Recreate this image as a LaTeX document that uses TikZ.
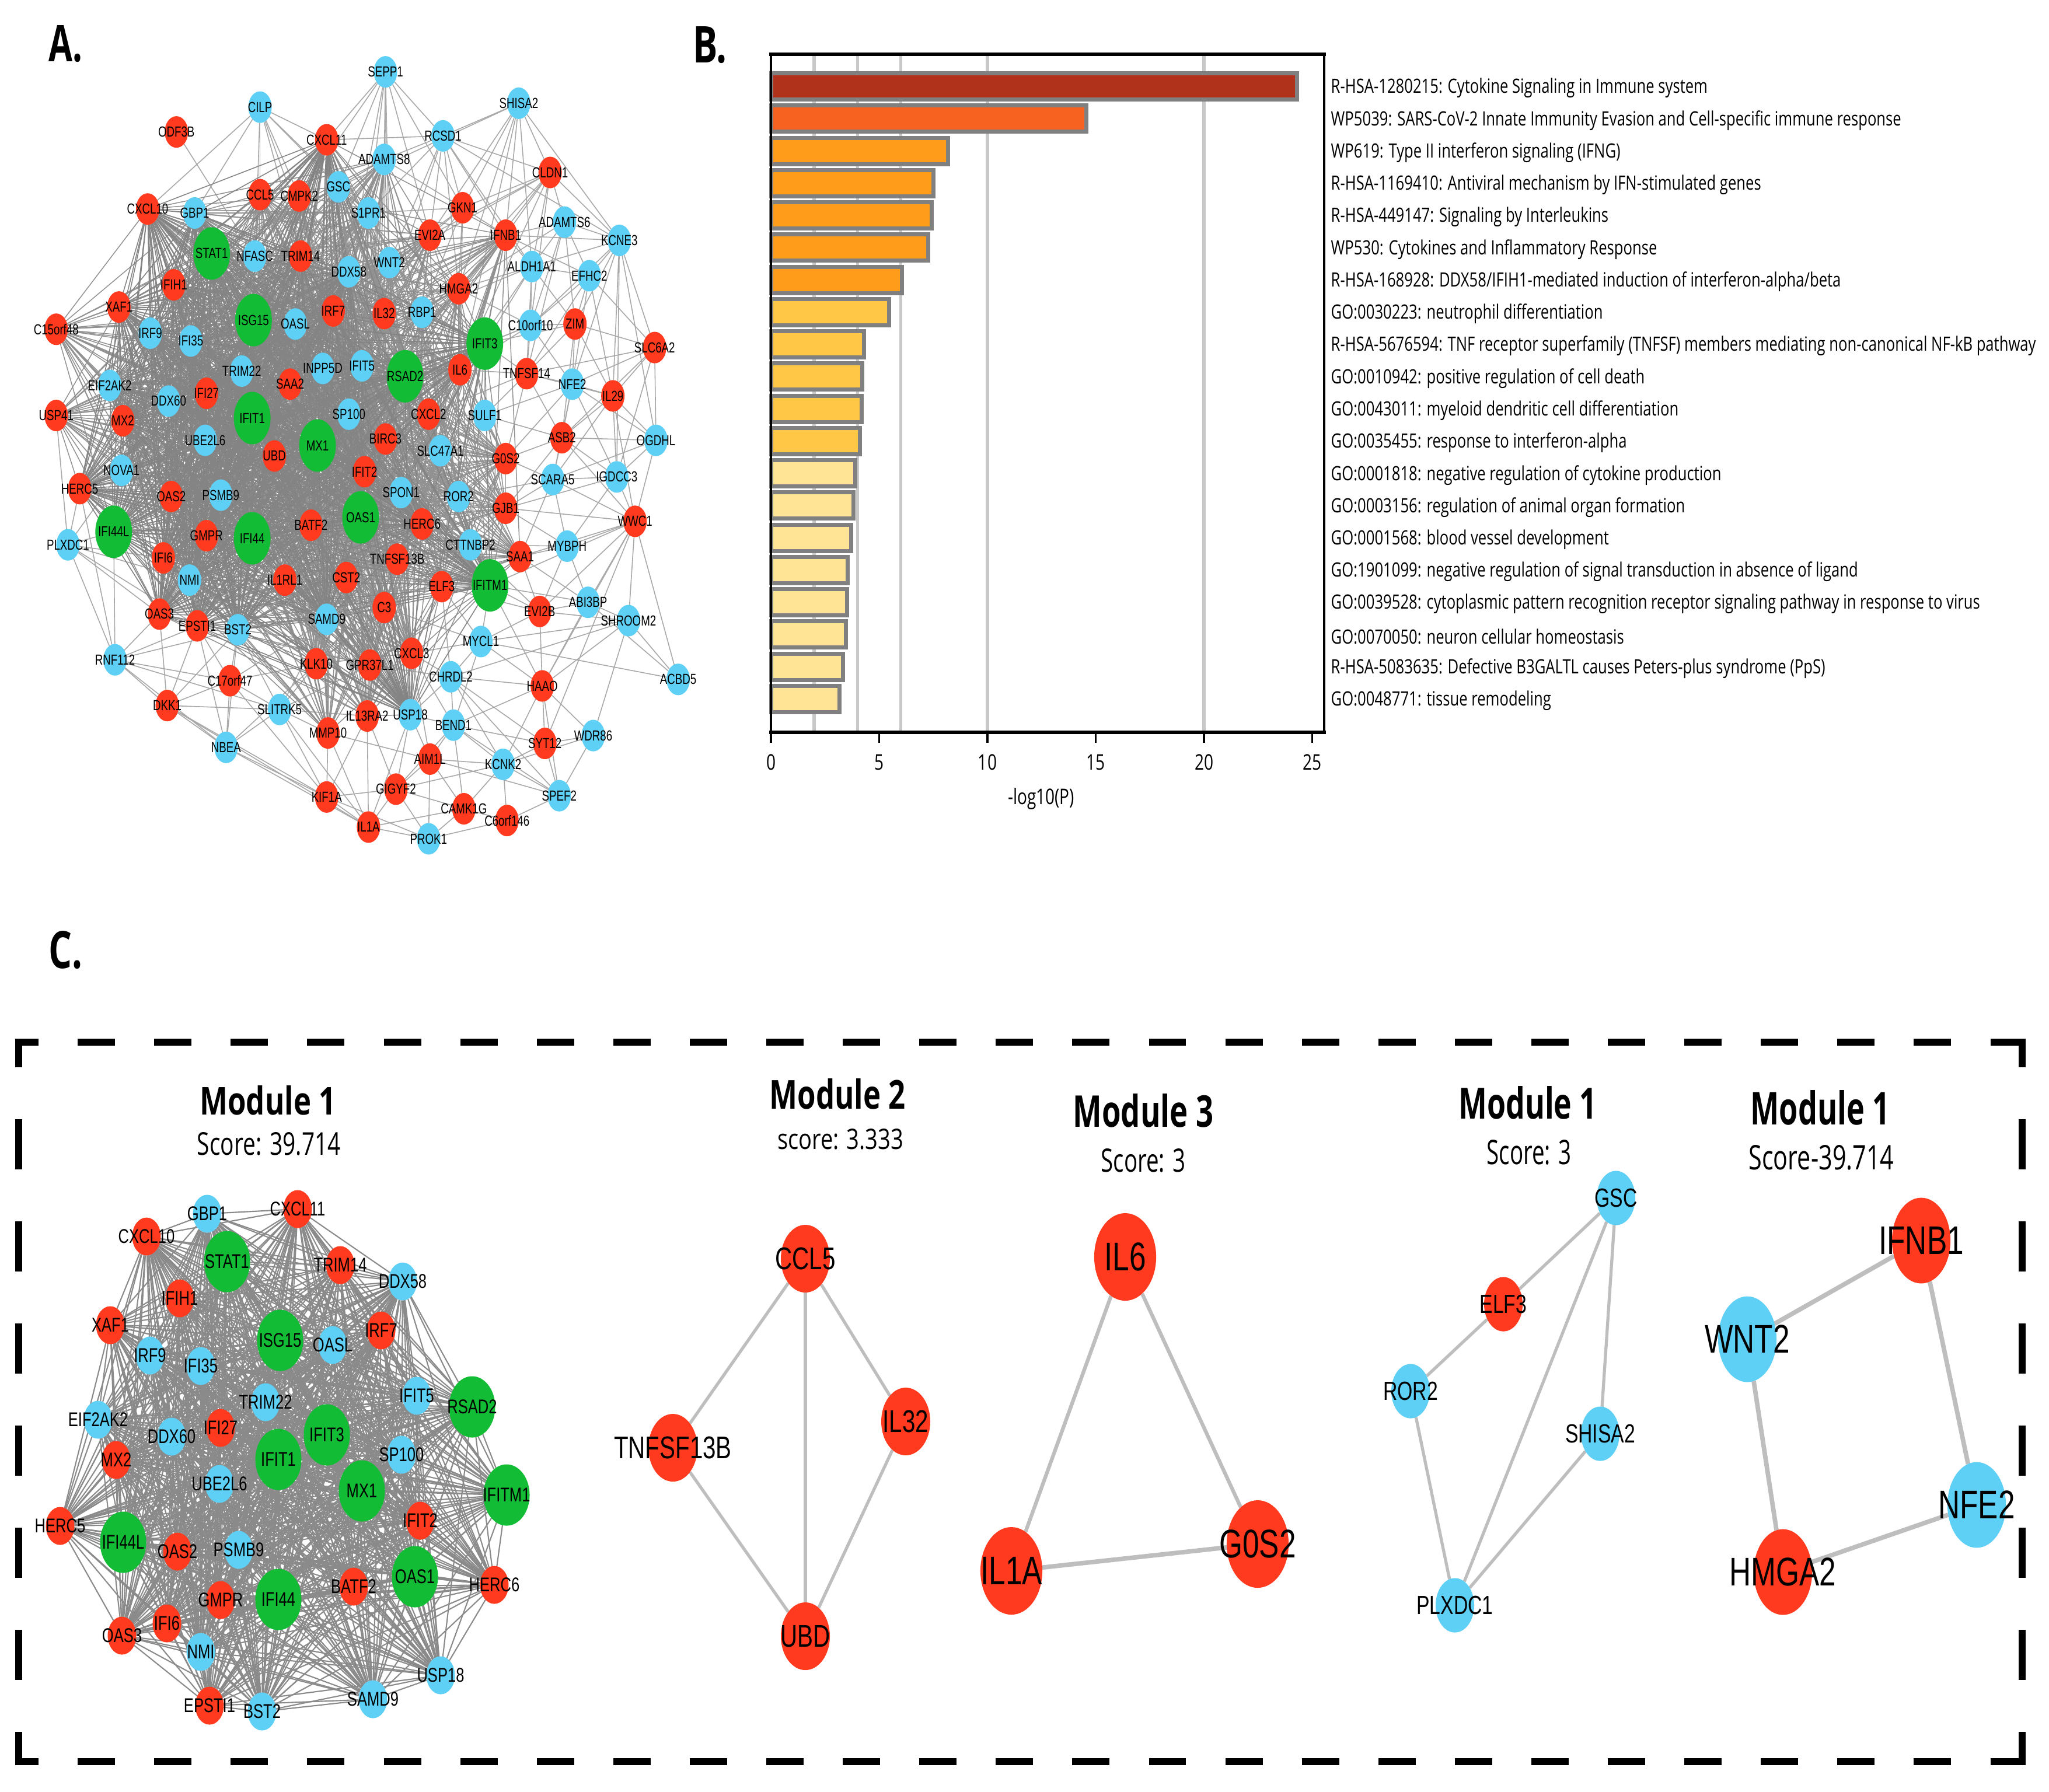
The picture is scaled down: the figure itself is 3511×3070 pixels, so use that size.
\documentclass[tikz,border=0pt]{standalone}
\usepackage{fontspec}
\usepackage{graphicx}
\setmainfont{Liberation Sans}
\newfontfamily\netfont[FakeStretch=0.75]{Liberation Sans}
\newfontfamily\condfont[FakeStretch=0.76]{Open Sans}
\newfontfamily\titlefont{Open Sans}
\usetikzlibrary{shapes.geometric}
\pgfdeclarelayer{bg}
\pgfdeclarelayer{edges}
\pgfsetlayers{bg,edges,main}
\definecolor{nred}{RGB}{255,58,30}
\definecolor{nblue}{RGB}{95,208,245}
\definecolor{ngreen}{RGB}{18,188,52}
\definecolor{edgeA}{RGB}{132,132,132}
\definecolor{edgeAm}{RGB}{145,145,145}
\definecolor{edgeAo}{RGB}{168,168,168}
\definecolor{edgeC}{RGB}{138,138,138}
\definecolor{edgeM}{RGB}{190,190,190}
\definecolor{barone}{RGB}{176,50,26}
\definecolor{bartwo}{RGB}{248,98,32}
\definecolor{barthree}{RGB}{255,157,27}
\definecolor{barfour}{RGB}{255,199,69}
\definecolor{barfive}{RGB}{255,228,150}
\definecolor{barline}{RGB}{128,128,128}
\definecolor{gridB}{RGB}{200,200,200}
\tikzset{
  nd/.style={ellipse, draw=none, inner sep=0pt, outer sep=0pt},
  rA/.style={nd, fill=nred, minimum width=11.4pt, minimum height=15.4pt},
  bA/.style={nd, fill=nblue, minimum width=11.4pt, minimum height=15.4pt},
  gA/.style={nd, fill=ngreen, minimum width=17.9pt, minimum height=25.6pt},
  labA/.style={inner sep=0pt, font=\netfont\fontsize{7.1}{8}\selectfont},
  eA/.style={draw=edgeA, line width=0.45pt},
  eAm/.style={draw=edgeAm, line width=0.42pt},
  eAo/.style={draw=edgeAo, line width=0.45pt},
  rC/.style={nd, fill=nred, minimum width=13.9pt, minimum height=18.5pt},
  bC/.style={nd, fill=nblue, minimum width=13.9pt, minimum height=18.5pt},
  gC/.style={nd, fill=ngreen, minimum width=22.5pt, minimum height=29.9pt},
  labC/.style={inner sep=0pt, font=\netfont\fontsize{9.7}{11}\selectfont},
  eC/.style={draw=edgeC, line width=0.6pt},
  rM2/.style={nd, fill=nred, minimum width=23.9pt, minimum height=33pt},
  labM2/.style={inner sep=0pt, font=\netfont\fontsize{15.3}{17}\selectfont},
  rM3/.style={nd, fill=nred, minimum width=30.2pt, minimum height=42.7pt},
  labM3/.style={inner sep=0pt, font=\netfont\fontsize{19.5}{22}\selectfont},
  rM4/.style={nd, fill=nred, minimum width=18.8pt, minimum height=26.5pt},
  bM4/.style={nd, fill=nblue, minimum width=18.8pt, minimum height=26.5pt},
  labM4/.style={inner sep=0pt, font=\netfont\fontsize{12.8}{14}\selectfont},
  rM5/.style={nd, fill=nred, minimum width=28.5pt, minimum height=41.8pt},
  bM5/.style={nd, fill=nblue, minimum width=28.5pt, minimum height=41.8pt},
  labM5/.style={inner sep=0pt, font=\netfont\fontsize{19.5}{22}\selectfont},
  eM/.style={draw=edgeM, line width=1.5pt},
  eMthick/.style={draw=edgeM, line width=2.2pt},
  barB/.style={draw=barline, line width=2pt},
  blab/.style={inner sep=0pt, anchor=west, font=\condfont\fontsize{9.6}{11}\selectfont},
  tickl/.style={inner sep=0pt, font=\condfont\fontsize{10.5}{12}\selectfont},
  ttl/.style={inner sep=0pt},
  dashH/.style={line width=3.3pt, dash pattern=on 18.2pt off 19.1pt, dash phase=6.8pt},
  dashV/.style={line width=3.3pt, dash pattern=on 24.5pt off 25.3pt, dash phase=10.5pt},
}
\def\corelist{GBP1,CXCL11,CXCL10,STAT1,TRIM14,DDX58,IFIH1,XAF1,ISG15,OASL,IRF7,IRF9,IFI35,TRIM22,IFIT5,RSAD2,EIF2AK2,DDX60,IFI27,IFIT3,IFIT1,SP100,MX2,UBE2L6,MX1,IFITM1,IFIT2,HERC5,IFI44L,OAS2,PSMB9,BATF2,OAS1,HERC6,GMPR,IFI44,IFI6,OAS3,NMI,USP18,SAMD9,EPSTI1,BST2}
\def\midlist{NFASC,CCL5,CMPK2,GSC,S1PR1,WNT2,INPP5D,SAA2,IL32,RBP1,IL6,UBD,BIRC3,CXCL2,SLC47A1,SPON1,ROR2,TNFSF13B,IL1RL1,CST2,C3,ELF3,CXCL3,GPR37L1,KLK10,IL13RA2,MMP10,HMGA2,EVI2A,IFNB1,G0S2,CTTNBP2,SAA1,NOVA1,C15orf48,USP41,ADAMTS8,GJB1}
\begin{document}
\begin{tikzpicture}[x=0.1mm,y=-0.1mm]
\useasboundingbox (0,0) rectangle (3511,3070);
\begin{pgfonlayer}{bg}
\fill[white] (0,0) rectangle (3511,3070);
\end{pgfonlayer}

% ---------- panel letters ----------
\node[anchor=south west, inner sep=0pt] (LA) at (83,107) {\resizebox{5.8mm}{6.2mm}{\titlefont\bfseries A.}};
\node[anchor=south west, inner sep=0pt] (LB) at (1187,109) {\resizebox{5.8mm}{6.2mm}{\titlefont\bfseries B.}};
\node[anchor=south west, inner sep=0pt] (LC) at (83,1661) {\resizebox{5.8mm}{6.4mm}{\titlefont\bfseries C.}};

% ---------- panel A ----------
\begin{scope}[x=0.2239mm,y=-0.2239mm]
\foreach \n/\x/\y in {CXCL11/250/107, CXCL10/113/160, TRIM14/230/196, IFIH1/133/218, XAF1/91/235, IRF7/255/238, IFI27/158/301, MX2/94/322, IFIT2/279/361, HERC5/61/374, OAS2/131/380, BATF2/238/402, HERC6/323/401, GMPR/158/410, IFI6/125/427, OAS3/122/470, EPSTI1/151/479,
 CCL5/199/149, CMPK2/229/150, SAA2/222/294, IL32/294/240, IL6/352/283, UBD/210/349, BIRC3/295/336, CXCL2/328/317, TNFSF13B/304/428, IL1RL1/218/444, CST2/265/442, C3/294/465, ELF3/338/449, CXCL3/315/500, GPR37L1/283/509, KLK10/242/508, IL13RA2/281/548, MMP10/251/561, HMGA2/351/221, EVI2A/329/180, IFNB1/387/180, G0S2/387/351, SAA1/398/426, C15orf48/43/252, USP41/43/318, GJB1/387/389,
 ODF3B/135/101, CLDN1/421/132, GKN1/354/159, ZIM/440/248, SLC6A2/501/266, TNFSF14/403/286, IL29/469/303, ASB2/430/335, WWC1/486/399, EVI2B/413/468, HAAO/415/525, SYT12/417/569, AIM1L/329/581, GIGYF2/303/604, CAMK1G/355/619, C6orf146/388/628, IL1A/282/633, KIF1A/250/610, DKK1/128/540, C17orf47/176/521}
  {\node[rA] (A-\n) at (\x,\y) {}; \node[labA] (A-\n-t) at (\x,\y) {\n};}
\foreach \n/\x/\y in {GBP1/149/163, DDX58/267/208, OASL/226/248, IRF9/115/255, IFI35/146/261, TRIM22/185/284, IFIT5/277/280, EIF2AK2/84/295, DDX60/129/307, SP100/267/317, UBE2L6/157/337, PSMB9/169/379, NMI/145/444, USP18/314/547, SAMD9/250/474, BST2/182/482,
 NFASC/195/196, GSC/259/143, S1PR1/282/163, WNT2/298/201, INPP5D/247/282, RBP1/323/239, SLC47A1/337/345, SPON1/307/377, ROR2/351/380, CTTNBP2/360/417, NOVA1/93/360, ADAMTS8/294/122,
 SEPP1/295/55, SHISA2/397/79, CILP/199/82, RCSD1/339/104, ADAMTS6/432/170, KCNE3/474/184, ALDH1A1/407/204, EFHC2/451/211, C10orf10/406/249, NFE2/438/294, SULF1/371/318, OGDHL/502/337, SCARA5/423/367, IGDCC3/472/365, MYBPH/434/418, ABI3BP/450/461, SHROOM2/481/475, ACBD5/519/520, MYCL1/368/491, CHRDL2/345/518, BEND1/347/555, WDR86/454/563, KCNK2/385/585, SPEF2/428/609, PROK1/328/642, SLITRK5/214/543, NBEA/173/572, RNF112/88/505, PLXDC1/52/417}
  {\node[bA] (A-\n) at (\x,\y) {}; \node[labA] (A-\n-t) at (\x,\y) {\n};}
\foreach \n/\x/\y in {STAT1/162/194, ISG15/194/245, RSAD2/310/288, IFIT3/371/263, IFIT1/193/320, MX1/243/341, IFITM1/375/448, IFI44L/87/407, OAS1/276/396, IFI44/193/412}
  {\node[gA] (A-\n) at (\x,\y) {}; \node[labA] (A-\n-t) at (\x,\y) {\n};}

\begin{pgfonlayer}{edges}
\foreach \ea/\lst in {
 SEPP1/{RCSD1,ADAMTS8,S1PR1,CXCL11,WNT2,EVI2A,GKN1,CMPK2,DDX58,IL32,GSC},
 SHISA2/{RCSD1,KCNE3,GKN1,IFNB1,ALDH1A1,HMGA2,EVI2A,GSC,IL6,CLDN1},
 CILP/{CXCL11,CCL5,CMPK2,CXCL10,GBP1,GSC,ISG15,TRIM14,IRF7,S1PR1},
 ODF3B/{NFASC},
 RCSD1/{ADAMTS8,S1PR1,CXCL11,GKN1,EVI2A,IFNB1,WNT2,HMGA2,CLDN1,KCNE3,IL32,ALDH1A1},
 CLDN1/{GKN1,IFNB1,ALDH1A1,ADAMTS6,HMGA2,EVI2A,C10orf10,IL6,KCNE3,WNT2,RBP1},
 GKN1/{EVI2A,IFNB1,HMGA2,IL32,WNT2,S1PR1,RBP1,IL6,ADAMTS8},
 ADAMTS6/{KCNE3,ALDH1A1,IFNB1,EFHC2,ZIM,C10orf10,TNFSF14,HMGA2},
 KCNE3/{EFHC2,IFNB1,ALDH1A1,ZIM,SLC6A2,IL29,NFE2,OGDHL,IGDCC3,C10orf10},
 ALDH1A1/{IFNB1,HMGA2,C10orf10,IL6,IFIT3,TNFSF14,EFHC2,RBP1,ZIM},
 EFHC2/{ZIM,C10orf10,TNFSF14,NFE2,SLC6A2,IL29,IFNB1},
 C10orf10/{ZIM,IFIT3,TNFSF14,NFE2,IL6,RSAD2,HMGA2},
 ZIM/{SLC6A2,NFE2,IL29,TNFSF14,IFIT3,ASB2},
 SLC6A2/{IL29,OGDHL,NFE2,TNFSF14,ASB2,IGDCC3},
 TNFSF14/{NFE2,IL6,IFIT3,ASB2,SULF1,G0S2,CXCL2,IL29},
 NFE2/{IL29,ASB2,OGDHL,SULF1,SCARA5,IGDCC3,G0S2},
 IL29/{OGDHL,ASB2,IGDCC3,WWC1,SCARA5},
 OGDHL/{ASB2,IGDCC3,WWC1,SCARA5},
 ASB2/{SULF1,G0S2,IGDCC3,SCARA5,WWC1,GJB1},
 SULF1/{CXCL2,IL6,SLC47A1,G0S2,ROR2,IFIT3},
 SCARA5/{IGDCC3,WWC1,G0S2,GJB1,MYBPH,SAA1,ROR2},
 IGDCC3/{WWC1,MYBPH,GJB1},
 WWC1/{MYBPH,ABI3BP,SHROOM2,ACBD5,EVI2B,HAAO,SAA1,GJB1,SYT12,IFITM1},
 MYBPH/{SAA1,ABI3BP,EVI2B,GJB1,CTTNBP2},
 ABI3BP/{SHROOM2,EVI2B,HAAO,SAA1,IFITM1},
 SHROOM2/{ACBD5,EVI2B,HAAO,MYCL1,CHRDL2},
 ACBD5/{MYCL1,ABI3BP},
 EVI2B/{IFITM1,SAA1,HAAO,MYCL1,ELF3,CTTNBP2},
 HAAO/{SYT12,SPEF2,CHRDL2,MYCL1,WDR86,KCNK2,BEND1,IFITM1},
 SYT12/{SPEF2,KCNK2,WDR86,CHRDL2,BEND1},
 WDR86/{SPEF2,SHROOM2,KCNK2},
 SPEF2/{KCNK2,C6orf146,BEND1,AIM1L,CHRDL2},
 KCNK2/{BEND1,AIM1L,CAMK1G,C6orf146,CHRDL2,GIGYF2},
 C6orf146/{CAMK1G,PROK1},
 CAMK1G/{PROK1,AIM1L,GIGYF2,IL1A,BEND1},
 PROK1/{IL1A,GIGYF2,AIM1L,KIF1A},
 IL1A/{KIF1A,GIGYF2,MMP10,SLITRK5,IL13RA2,NBEA,USP18,DKK1},
 KIF1A/{MMP10,SLITRK5,GIGYF2,NBEA,DKK1,C17orf47,IL13RA2},
 GIGYF2/{AIM1L,USP18,BEND1,IL13RA2},
 AIM1L/{BEND1,USP18,CXCL3,MMP10},
 BEND1/{USP18,CHRDL2,CXCL3,MYCL1},
 CHRDL2/{MYCL1,CXCL3,ELF3,GPR37L1,USP18},
 MYCL1/{IFITM1,ELF3,CXCL3,C3},
 SLITRK5/{NBEA,DKK1,C17orf47,MMP10,KLK10,IL13RA2,SAMD9,BST2,GPR37L1,RNF112},
 NBEA/{C17orf47,DKK1,RNF112,BST2,EPSTI1,KLK10},
 DKK1/{C17orf47,RNF112,EPSTI1,OAS3,BST2},
 C17orf47/{RNF112,KLK10,BST2,SAMD9,EPSTI1},
 RNF112/{PLXDC1,IFI44L,OAS3,EPSTI1,HERC5,BST2},
 PLXDC1/{HERC5,IFI44L,IFI6,OAS3,NMI,NOVA1,EPSTI1,USP41}}
 {\foreach \eb in \lst {\draw[eAo] (A-\ea) -- (A-\eb);}}
\foreach \ea [count=\ii] in \midlist {
  \foreach \eb [count=\jj] in \corelist {
    \pgfmathtruncatemacro\rr{mod(\ii+\jj,2)}
    \ifnum\rr=0\relax \draw[eAm] (A-\ea) -- (A-\eb); \fi
  }
  \foreach \eb [count=\jj] in \midlist {
    \ifnum\jj>\ii\relax
      \pgfmathtruncatemacro\rr{mod(\ii+\jj,3)}
      \ifnum\rr=0\relax \draw[eAm] (A-\ea) -- (A-\eb); \fi
    \fi
  }
}
\foreach \ea [count=\ii] in \corelist {
  \foreach \eb [count=\jj] in \corelist {
    \ifnum\jj>\ii\relax \draw[eA] (A-\ea) -- (A-\eb); \fi
  }
}
\end{pgfonlayer}
\end{scope}

% ---------- panel B ----------
\foreach \val in {2,4,6,10,20}
  {\draw[gridB, line width=1.6pt] (1321+37.1*\val,93) -- (1321+37.1*\val,1255);}
\foreach \kk/\val/\cc/\txt in {
 1/24.4/barone/{R-HSA-1280215: Cytokine Signaling in Immune system},
 2/14.67/bartwo/{WP5039: SARS-CoV-2 Innate Immunity Evasion and Cell-specific immune response},
 3/8.27/barthree/{WP619: Type II interferon signaling (IFNG)},
 4/7.6/barthree/{R-HSA-1169410: Antiviral mechanism by IFN-stimulated genes},
 5/7.52/barthree/{R-HSA-449147: Signaling by Interleukins},
 6/7.36/barthree/{WP530: Cytokines and Inflammatory Response},
 7/6.15/barthree/{R-HSA-168928: DDX58/IFIH1-mediated induction of interferon-alpha/beta},
 8/5.55/barfour/{GO:0030223: neutrophil differentiation},
 9/4.4/barfour/{R-HSA-5676594: TNF receptor superfamily (TNFSF) members mediating non-canonical NF-kB pathway},
 10/4.3/barfour/{GO:0010942: positive regulation of cell death},
 11/4.28/barfour/{GO:0043011: myeloid dendritic cell differentiation},
 12/4.2/barfour/{GO:0035455: response to interferon-alpha},
 13/4.0/barfive/{GO:0001818: negative regulation of cytokine production},
 14/3.9/barfive/{GO:0003156: regulation of animal organ formation},
 15/3.8/barfive/{GO:0001568: blood vessel development},
 16/3.65/barfive/{GO:1901099: negative regulation of signal transduction in absence of ligand},
 17/3.6/barfive/{GO:0039528: cytoplasmic pattern recognition receptor signaling pathway in response to virus},
 18/3.57/barfive/{GO:0070050: neuron cellular homeostasis},
 19/3.42/barfive/{R-HSA-5083635: Defective B3GALTL causes Peters-plus syndrome (PpS)},
 20/3.27/barfive/{GO:0048771: tissue remodeling}}
{
  \pgfmathsetmacro\yc{148+55.26*(\kk-1)}
  \pgfmathsetmacro\xe{1321+37.1*\val-3.5}
  \draw[barB, fill=\cc] (1321,\yc-22.5) rectangle (\xe,\yc+22.5);
  \node[blab] (B-l\kk) at (2280,\yc+3) {\txt};
}
\draw[line width=1.1pt] (1321,93) rectangle (2269,1255);
\draw[line width=1.9pt] (1318,93) -- (2272,93);
\draw[line width=1.9pt] (1318,1255) -- (2272,1255);
\foreach \val in {0,5,10,15,20,25} {
  \draw[line width=1pt] (1321+37.1*\val,1255) -- (1321+37.1*\val,1273);
  \node[tickl] (B-x\val) at (1321+37.1*\val,1306) {\val};
}
\node[tickl] (B-axis) at (1784,1369) {-log10(P)};

% ---------- panel C frame ----------
\draw[dashH] (26,1786) -- (3470,1786);
\draw[dashH] (26,3019) -- (3470,3019);
\draw[dashV] (32,1780) -- (32,3025);
\draw[dashV] (3465,1780) -- (3465,3025);

% ---------- titles ----------
\node[ttl] (T1) at (459,1886) {\resizebox{23.3mm}{5.0mm}{\titlefont\bfseries Module 1}};
\node[ttl] (S1) at (461,1960) {\resizebox{24.6mm}{3.9mm}{\condfont Score: 39.714}};
\node[ttl] (T2) at (1435,1875) {\resizebox{23.3mm}{5.2mm}{\titlefont\bfseries Module 2}};
\node[ttl] (S2) at (1440,1952) {\resizebox{21.6mm}{3.5mm}{\condfont score: 3.333}};
\node[ttl] (T3) at (1959,1903) {\resizebox{24.1mm}{5.7mm}{\titlefont\bfseries Module 3}};
\node[ttl] (S3) at (1959,1989) {\resizebox{14.5mm}{4.0mm}{\condfont Score: 3}};
\node[ttl] (T4) at (2618,1890) {\resizebox{23.7mm}{5.6mm}{\titlefont\bfseries Module 1}};
\node[ttl] (S4) at (2620,1975) {\resizebox{14.5mm}{4.2mm}{\condfont Score: 3}};
\node[ttl] (T5) at (3119,1898) {\resizebox{23.9mm}{5.9mm}{\titlefont\bfseries Module 1}};
\node[ttl] (S5) at (3121,1984) {\resizebox{24.9mm}{4.2mm}{\condfont Score-39.714}};

% ---------- C: module 1 ----------
\foreach \n/\x/\y in {CXCL11/510/2072, CXCL10/251/2119, TRIM14/583/2168, IFIH1/308/2225, XAF1/189/2271, IRF7/653/2280, IFI27/378/2447, MX2/199/2502, IFIT2/720/2606, HERC5/103/2615, OAS2/304/2659, BATF2/606/2719, HERC6/847/2716, GMPR/378/2742, IFI6/286/2782, OAS3/209/2803, EPSTI1/359/2923}
  {\node[rC] (C-\n) at (\x,\y) {}; \node[labC] (C-\n-t) at (\x,\y) {\n};}
\foreach \n/\x/\y in {GBP1/355/2080, DDX58/690/2196, OASL/570/2305, IRF9/257/2323, IFI35/344/2341, TRIM22/455/2403, IFIT5/714/2392, EIF2AK2/168/2433, DDX60/294/2462, SP100/688/2493, UBE2L6/376/2543, PSMB9/409/2656, NMI/344/2831, USP18/755/2871, SAMD9/639/2912, BST2/449/2933}
  {\node[bC] (C-\n) at (\x,\y) {}; \node[labC] (C-\n-t) at (\x,\y) {\n};}
\foreach \n/\x/\y in {STAT1/389/2162, ISG15/480/2297, RSAD2/809/2411, IFIT3/560/2459, IFIT1/477/2501, MX1/620/2555, IFITM1/868/2562, IFI44L/211/2643, OAS1/711/2702, IFI44/477/2741}
  {\node[gC] (C-\n) at (\x,\y) {}; \node[labC] (C-\n-t) at (\x,\y) {\n};}
\begin{pgfonlayer}{edges}
\foreach \ea [count=\ii] in \corelist {
  \foreach \eb [count=\jj] in \corelist {
    \ifnum\jj>\ii\relax \draw[eC] (C-\ea) -- (C-\eb); \fi
  }
}
\end{pgfonlayer}

% ---------- C: module 2 ----------
\foreach \n/\x/\y in {CCL5/1380/2157, TNFSF13B/1153/2481, IL32/1552/2436, UBD/1380/2804}
  {\node[rM2] (M2-\n) at (\x,\y) {}; \node[labM2] (M2-\n-t) at (\x,\y) {\n};}
\begin{pgfonlayer}{edges}
\draw[eM] (M2-CCL5) -- (M2-TNFSF13B);
\draw[eM] (M2-CCL5) -- (M2-UBD);
\draw[eM] (M2-CCL5) -- (M2-IL32);
\draw[eM] (M2-TNFSF13B) -- (M2-UBD);
\draw[eM] (M2-IL32) -- (M2-UBD);
\end{pgfonlayer}

% ---------- C: module 3 ----------
\foreach \n/\x/\y in {IL6/1928/2154, IL1A/1733/2692, G0S2/2155/2646}
  {\node[rM3] (M3-\n) at (\x,\y) {}; \node[labM3] (M3-\n-t) at (\x,\y) {\n};}
\begin{pgfonlayer}{edges}
\draw[eM, line width=1.8pt] (M3-IL6) -- (M3-IL1A);
\draw[eM, line width=1.8pt] (M3-IL6) -- (M3-G0S2);
\draw[eMthick] (M3-IL1A) -- (M3-G0S2);
\end{pgfonlayer}

% ---------- C: module 1 (score 3) ----------
\node[rM4] (M4-ELF3) at (2576,2235) {}; \node[labM4] (M4-ELF3-t) at (2576,2235) {ELF3};
\foreach \n/\x/\y in {GSC/2769/2053, ROR2/2417/2384, SHISA2/2742/2457, PLXDC1/2493/2751}
  {\node[bM4] (M4-\n) at (\x,\y) {}; \node[labM4] (M4-\n-t) at (\x,\y) {\n};}
\begin{pgfonlayer}{edges}
\draw[eM] (M4-GSC) -- (M4-ELF3);
\draw[eM] (M4-ELF3) -- (M4-ROR2);
\draw[eM] (M4-ROR2) -- (M4-PLXDC1);
\draw[eM] (M4-GSC) -- (M4-PLXDC1);
\draw[eM] (M4-GSC) -- (M4-SHISA2);
\draw[eM] (M4-SHISA2) -- (M4-PLXDC1);
\end{pgfonlayer}

% ---------- C: module 1 (score 39.714) ----------
\foreach \n/\x/\y in {IFNB1/3292/2126, HMGA2/3055/2694}
  {\node[rM5] (M5-\n) at (\x,\y) {}; \node[labM5] (M5-\n-t) at (\x,\y) {\n};}
\foreach \n/\x/\y in {WNT2/2994/2295, NFE2/3387/2579}
  {\node[bM5] (M5-\n) at (\x,\y) {}; \node[labM5] (M5-\n-t) at (\x,\y) {\n};}
\begin{pgfonlayer}{edges}
\draw[eMthick] (M5-WNT2) -- (M5-IFNB1);
\draw[eMthick] (M5-IFNB1) -- (M5-NFE2);
\draw[eMthick] (M5-NFE2) -- (M5-HMGA2);
\draw[eMthick] (M5-HMGA2) -- (M5-WNT2);
\end{pgfonlayer}
\end{tikzpicture}
\end{document}
